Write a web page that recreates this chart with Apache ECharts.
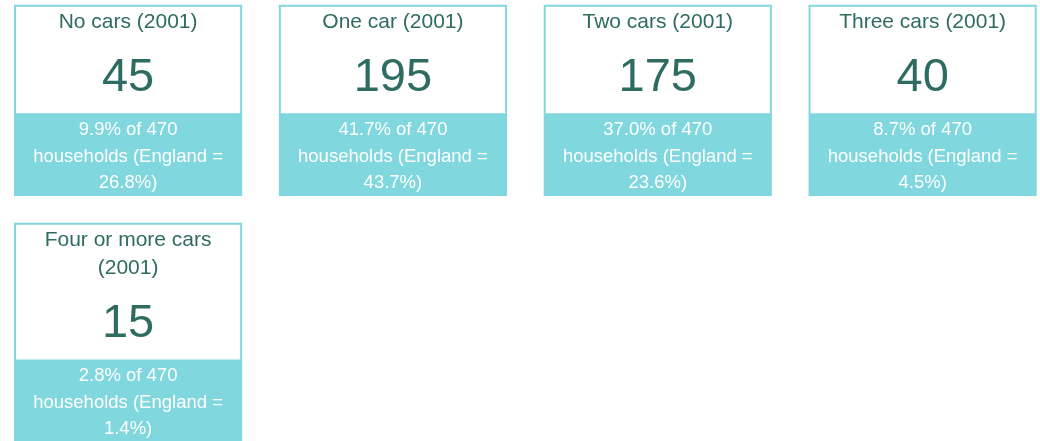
<!DOCTYPE html>
<html>
<head>
<meta charset="utf-8">
<script src="https://cdn.jsdelivr.net/npm/echarts@6/dist/echarts.min.js"></script>
<style>
html,body{margin:0;padding:0;background:#fff;}
#main{width:1040px;height:441px;}
</style>
</head>
<body>
<div id="main"></div>
<script>
const categories = ['No cars (2001)', 'One car (2001)', 'Two cars (2001)', 'Three cars (2001)', 'Four or more cars (2001)'];
const counts = [45, 195, 175, 40, 15];
const percents = ['9.9', '41.7', '37.0', '8.7', '2.8'];
const englandPercents = ['26.8', '43.7', '23.6', '4.5', '1.4'];
const totalHouseholds = 470;
const perRow = 4;

const FONT = "'Liberation Sans', Arial, Helvetica, sans-serif";
const TEAL = '#80d7dd';
const DARK = '#2e6b60';
const TITLE_SIZE = 21, TITLE_LH = 28, TITLE_WIDTH = 206;

const ctx = document.createElement('canvas').getContext('2d');
ctx.font = TITLE_SIZE + 'px ' + FONT;
function wrap(text, width) {
  const words = text.split(' ');
  const lines = [];
  let cur = '';
  words.forEach(w => {
    const t = cur ? cur + ' ' + w : w;
    if (cur && ctx.measureText(t).width > width) { lines.push(cur); cur = w; }
    else cur = t;
  });
  if (cur) lines.push(cur);
  return lines;
}

const data = categories.map((c, i) => [i % perRow, Math.floor(i / perRow), i]);

const chart = echarts.init(document.getElementById('main'));
chart.setOption({
  animation: false,
  grid: { left: 14, right: 3.3, top: 4.7, bottom: 0 },
  xAxis: { type: 'value', min: 0, max: 3.8614, show: false },
  yAxis: { type: 'value', min: 0, max: 2, inverse: true, show: false },
  series: [{
    type: 'custom',
    data: data,
    clip: false,
    renderItem: function (params, api) {
      const i = api.value(2);
      const p = api.coord([api.value(0), api.value(1)]);
      const w = api.size([0.8614, 0])[0];
      const x = p[0], y = p[1];
      const lines = wrap(categories[i], TITLE_WIDTH);
      const n = lines.length;
      const whiteH = 108.6 + TITLE_LH * (n - 1);
      const tealH = 82.7;
      const cx = x + w / 2;
      return {
        type: 'group',
        children: [
          { type: 'rect', shape: { x: x, y: y, width: w, height: whiteH + tealH }, style: { fill: TEAL } },
          { type: 'rect', shape: { x: x + 2, y: y + 2, width: w - 4, height: whiteH - 2 }, style: { fill: '#ffffff' } },
          { type: 'text', style: { x: cx, y: y + 3.5, text: lines.join('\n'), font: TITLE_SIZE + 'px ' + FONT, fill: DARK, align: 'center', verticalAlign: 'top', lineHeight: TITLE_LH } },
          { type: 'text', style: { x: cx, y: y + 73 + TITLE_LH * (n - 1), text: String(counts[i]), font: '47px ' + FONT, fill: DARK, align: 'center', verticalAlign: 'middle' } },
          { type: 'text', style: { x: cx, y: y + whiteH + 3.5, text: percents[i] + '% of ' + totalHouseholds + '\nhouseholds (England =\n' + englandPercents[i] + '%)', font: '18.5px ' + FONT, fill: '#ffffff', align: 'center', verticalAlign: 'top', lineHeight: 26.5 } }
        ]
      };
    }
  }]
});
</script>
</body>
</html>
